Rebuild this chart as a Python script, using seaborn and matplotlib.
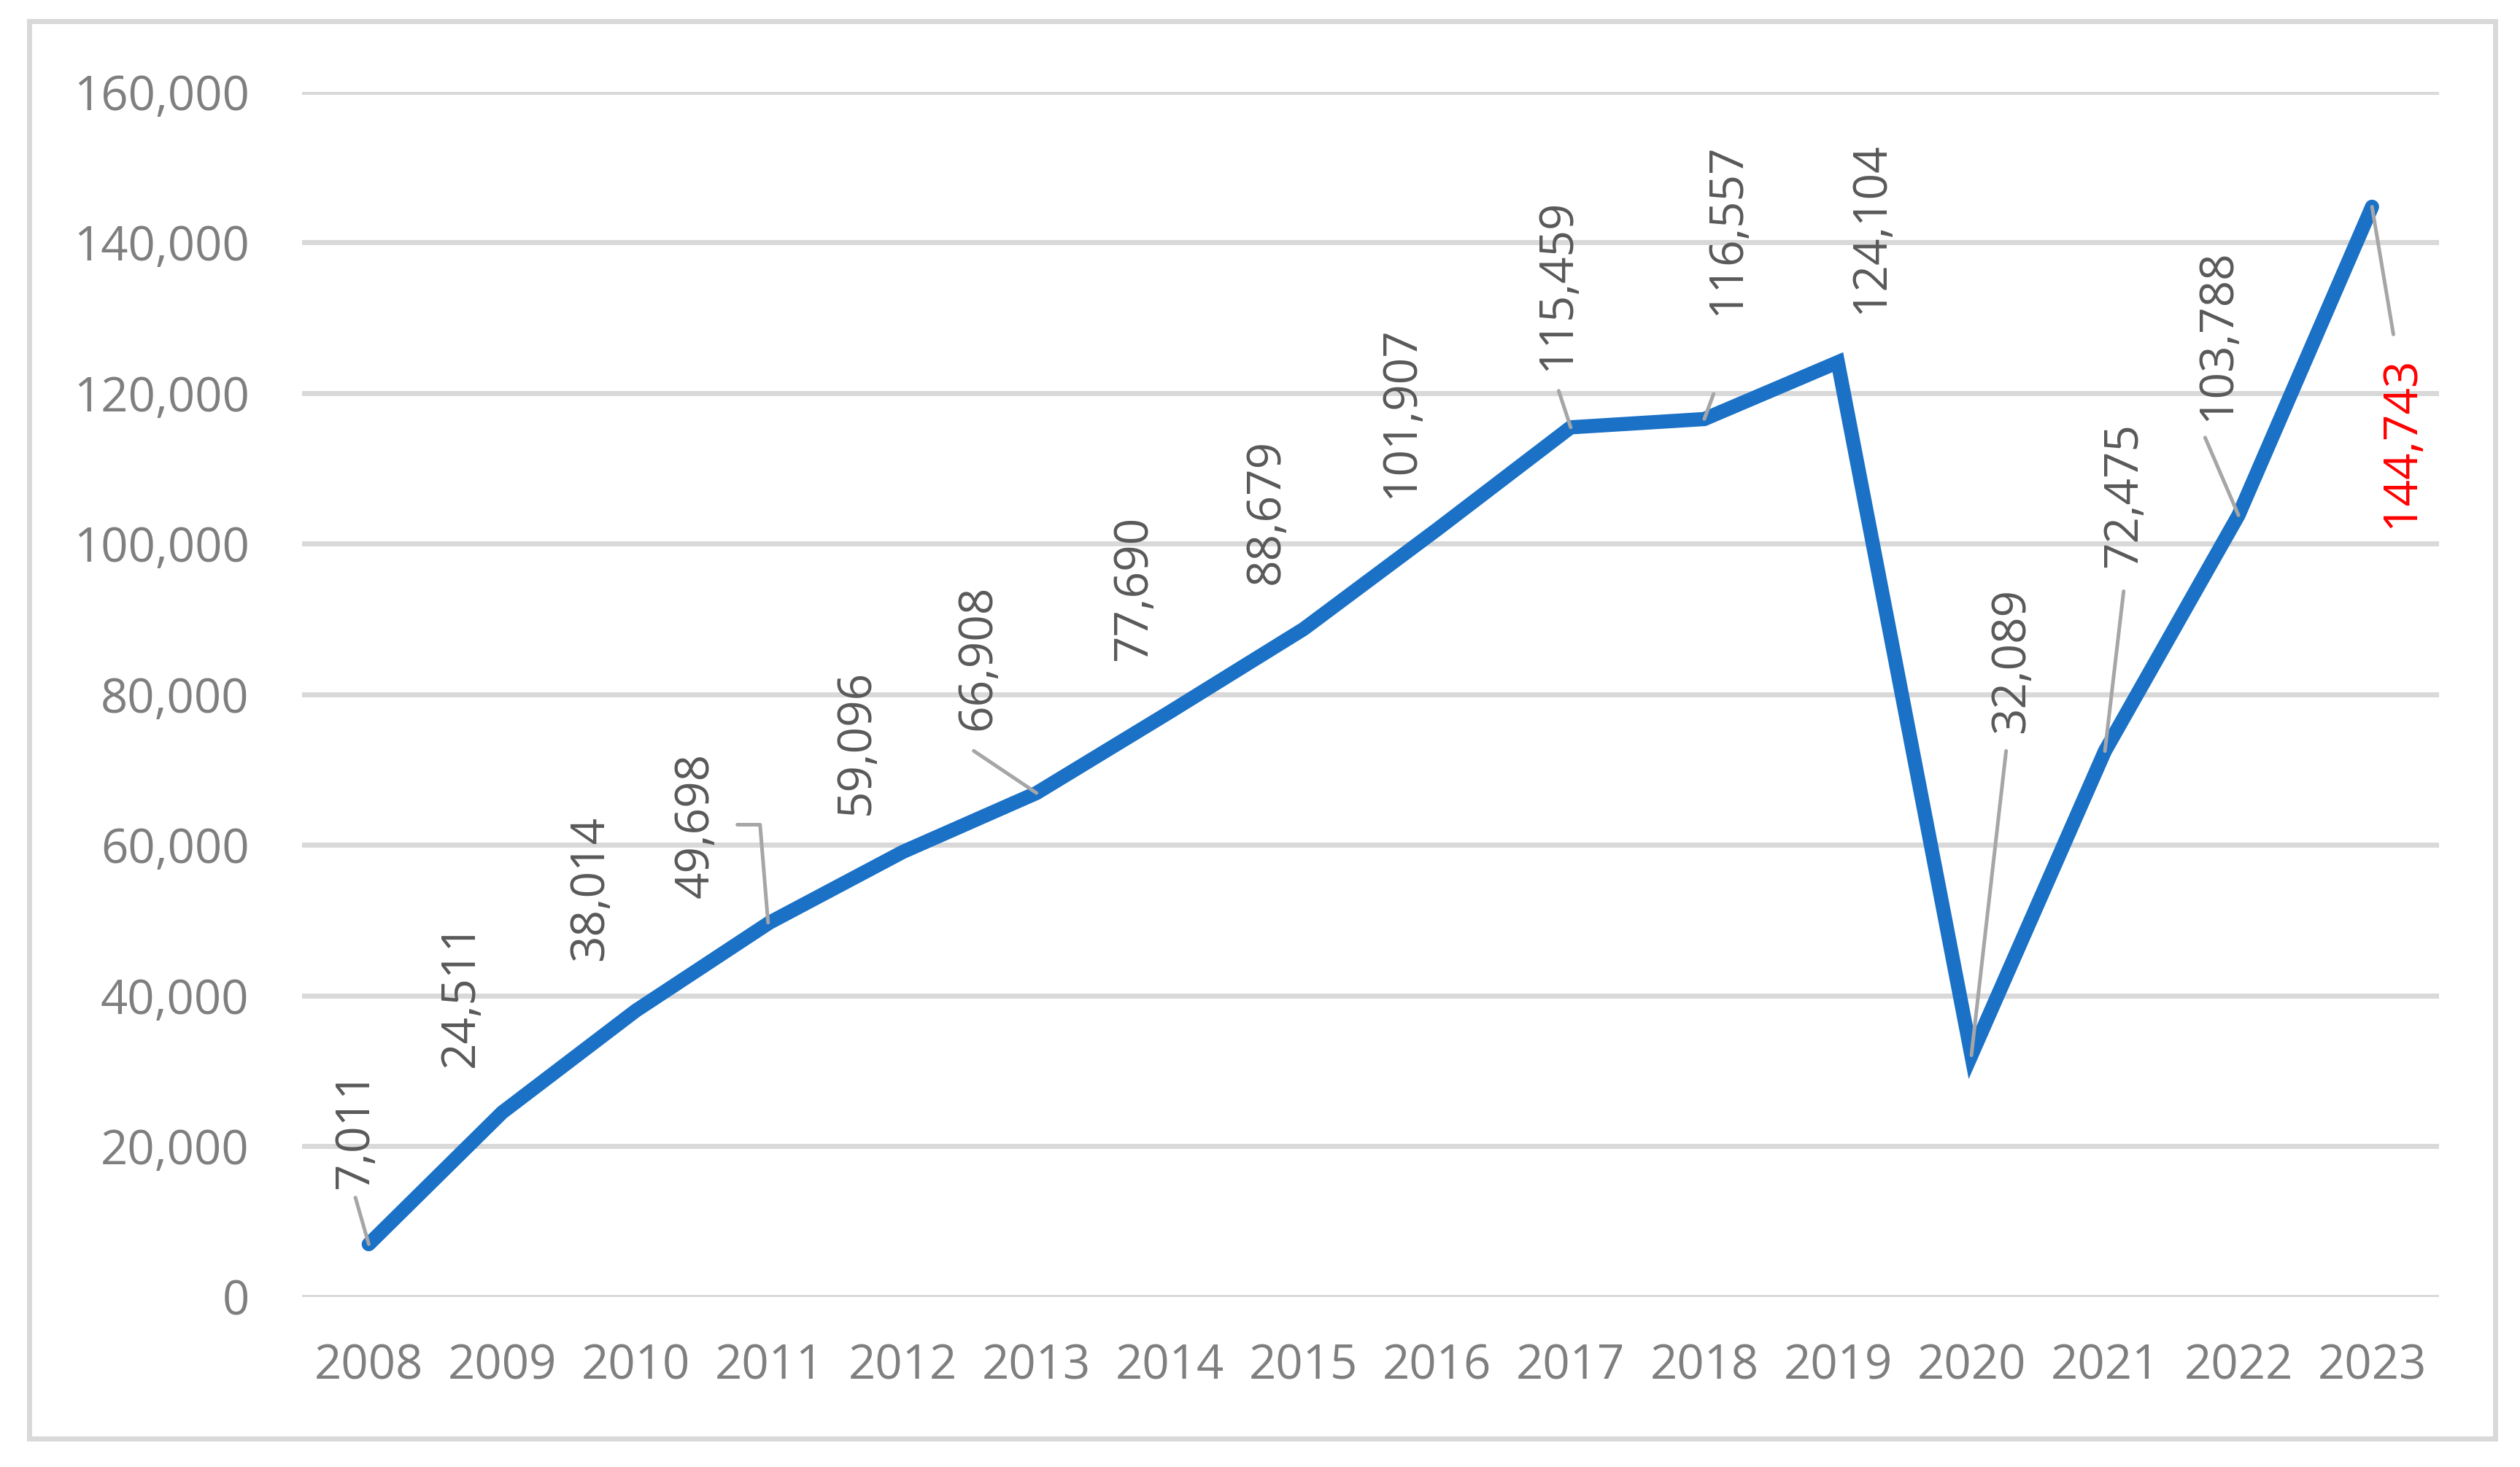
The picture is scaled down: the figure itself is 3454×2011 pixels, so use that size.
import matplotlib
matplotlib.use('Agg')
import numpy as np
import pandas as pd
import matplotlib.pyplot as plt
import seaborn as sns
from matplotlib.ticker import FuncFormatter
from matplotlib.patches import Rectangle

years = [2008, 2009, 2010, 2011, 2012, 2013, 2014, 2015,
         2016, 2017, 2018, 2019, 2020, 2021, 2022, 2023]
values = [7011, 24511, 38014, 49698, 59096, 66908, 77690, 88679,
          101907, 115459, 116557, 124104, 32089, 72475, 103788, 144743]
y_ticks = [0, 20000, 40000, 60000, 80000, 100000, 120000, 140000, 160000]

# where each rotated data label sits: x offset from its year, y centre in data units
label_dx = [-0.10, -0.31, -0.34, -0.55, -0.35, -0.44, -0.27, -0.28,
            -0.27, -0.10, 0.17, 0.25, 0.30, 0.14, -0.16, 0.22]
label_y = [22200, 40100, 54300, 62600, 73700, 84900, 94100, 104300,
           117500, 134400, 141800, 142000, 84500, 106500, 127700, 113500]
# leader lines (x offset, y) from label to point
leaders = {
    0: [(-0.10, 13200), (0, 7011)],
    3: [(-0.24, 62700), (-0.07, 62700), (-0.01, 49698)],
    5: [(-0.47, 72500), (0, 66908)],
    9: [(-0.09, 120300), (0, 115459)],
    10: [(0.07, 119900), (0, 116557)],
    12: [(0.26, 72500), (0, 32089)],
    13: [(0.14, 93700), (0, 72475)],
    14: [(-0.25, 114100), (0, 103788)],
    15: [(0.16, 127800), (0, 144743)],
}

df = pd.DataFrame({'year': years, 'value': values})

sns.set_style('white')
plt.rcParams['font.family'] = ['Open Sans', 'DejaVu Sans']

fig = plt.figure(figsize=(34.55, 20.11), dpi=100)
ax = fig.add_axes([0.1198, 0.1159, 0.8477, 0.8215])

sns.lineplot(data=df, x='year', y='value', color='#1A71C6', linewidth=14,
             solid_capstyle='round', solid_joinstyle='miter', ax=ax, zorder=2)

for i, (yr, v) in enumerate(zip(years, values)):
    col = '#FF0000' if i == len(years) - 1 else '#595959'
    ax.text(yr + label_dx[i], label_y[i], f'{v:,}', rotation=90,
            ha='center', va='center', fontsize=46, color=col, zorder=4)
    if i in leaders:
        pts = leaders[i]
        ax.plot([yr + p[0] for p in pts], [p[1] for p in pts],
                color='#A6A6A6', linewidth=3.6, zorder=3)

ax.set_xlim(years[0] - 0.5, years[-1] + 0.5)
ax.set_ylim(0, 160000)
ax.set_xticks(years)
ax.set_xticklabels([str(y) for y in years])
ax.set_yticks(y_ticks)
ax.yaxis.set_major_formatter(FuncFormatter(lambda v, p: f'{int(v):,}'))
ax.grid(axis='y', color='#D9D9D9', linewidth=5)
ax.set_axisbelow(True)
for s in ax.spines.values():
    s.set_visible(False)
ax.tick_params(axis='y', length=0, pad=52, labelsize=47, labelcolor='#7F7F7F')
ax.tick_params(axis='x', length=0, pad=45, labelsize=47, labelcolor='#7F7F7F')
ax.set_xlabel('')
ax.set_ylabel('')

fig.patches.append(Rectangle((40 / 3455, 1 - 1972 / 2011),
                             (3420 - 40) / 3455, (1972 - 29) / 2011,
                             transform=fig.transFigure, fill=False,
                             edgecolor='#D9D9D9', linewidth=5))

fig.savefig('out.png', dpi=100)
